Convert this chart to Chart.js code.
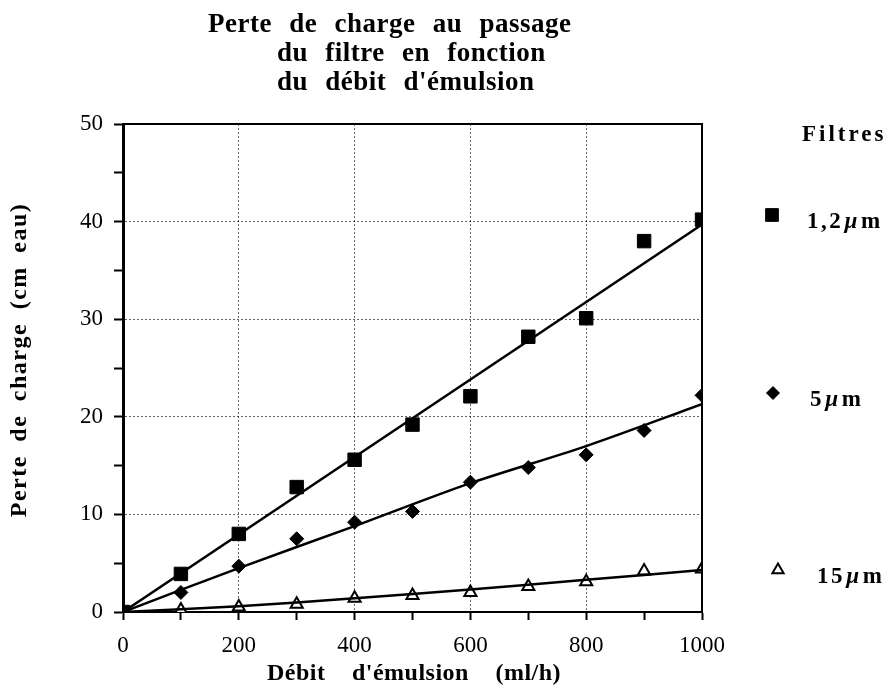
<!DOCTYPE html>
<html lang="fr">
<head>
    <meta charset="UTF-8">
    <title>Perte de charge</title>
    <script src="https://cdn.jsdelivr.net/npm/chart.js"></script>
    <style>
        body { margin: 0; background: white; }
        #wrap { width: 895px; height: 696px; }
    </style>
</head>
<body>
<div id="wrap"><canvas id="chart" width="895" height="696"></canvas></div>
<script>
    // débit d'émulsion (ml/h)
    const debits = [0, 100, 200, 300, 400, 500, 600, 700, 800, 900, 1000];

    // perte de charge (cm eau) mesurée
    const filtre12 = [0, 3.9, 8.0, 12.8, 15.6, 19.2, 22.1, 28.2, 30.1, 38.0, 40.2];
    const filtre5  = [0, 2.0, 4.7, 7.5, 9.2, 10.3, 13.3, 14.8, 16.1, 18.6, 22.2];
    const filtre15 = [0, 0.2, 0.5, 0.8, 1.4, 1.7, 2.0, 2.6, 3.1, 4.2, 4.4];

    // droites / courbes d'ajustement
    const fitX12 = [0, 1000];
    const fitY12 = [0, 39.7];
    const fitX5  = [0, 200, 400, 600, 800, 1000];
    const fitY5  = [0, 4.5, 8.8, 13.2, 17.0, 21.3];
    const fitX15 = [0, 200, 400, 600, 800, 1000];
    const fitY15 = [0, 0.6, 1.4, 2.3, 3.3, 4.3];

    const labels = ['1,2', '5', '15'];
    const titleLines = ['Perte de charge au passage', 'du filtre en fonction', 'du débit d\'émulsion'];
    const xTitle = 'Débit d\'émulsion (ml/h)';
    const yTitle = 'Perte de charge (cm eau)';

    const pts = (xs, ys) => xs.map((x, i) => ({ x: x, y: ys[i] }));

    const serif = '"Liberation Serif", "DejaVu Serif", serif';

    function markerSet(label, data, style, radius, fill) {
        return {
            label: label, data: data, showLine: false, legendMark: true,
            pointStyle: style, pointRadius: radius, pointHoverRadius: radius,
            pointBackgroundColor: fill, pointBorderColor: '#000', pointBorderWidth: fill === '#fff' ? 2 : 1
        };
    }
    function fitSet(data) {
        return {
            data: data, showLine: true, pointRadius: 0, borderColor: '#000',
            borderWidth: 2.5, fill: false, tension: 0.3
        };
    }

    // titre, titres d'axes, légende et cadre
    const decor = {
        id: 'decor',
        afterDraw(chart) {
            const ctx = chart.ctx;
            const a = chart.chartArea;
            ctx.save();
            ctx.strokeStyle = '#000';
            ctx.lineWidth = 2;
            ctx.beginPath();
            ctx.moveTo(a.left, a.top);
            ctx.lineTo(a.right, a.top);
            ctx.lineTo(a.right, a.bottom);
            ctx.stroke();

            ctx.fillStyle = '#000';
            ctx.textBaseline = 'alphabetic';
            ctx.textAlign = 'left';
            ctx.font = 'bold 27px ' + serif;
            ctx.letterSpacing = '0.5px';
            ctx.wordSpacing = '10px';
            const tx = [208, 277, 277];
            const ty = [32, 61, 90];
            titleLines.forEach((t, i) => ctx.fillText(t, tx[i], ty[i]));

            // titres des axes
            ctx.textAlign = 'center';
            ctx.textBaseline = 'alphabetic';
            ctx.font = 'bold 24px ' + serif;
            ctx.letterSpacing = '0.5px';
            ctx.wordSpacing = '20px';
            ctx.fillText(xTitle, 414, 680);
            ctx.save();
            ctx.translate(20, 360);
            ctx.rotate(-Math.PI / 2);
            ctx.textBaseline = 'middle';
            ctx.letterSpacing = '1.5px';
            ctx.wordSpacing = '6px';
            ctx.fillText(yTitle, 0, 0);
            ctx.restore();
            ctx.wordSpacing = '0px';

            // légende
            ctx.textAlign = 'left';
            ctx.textBaseline = 'middle';
            ctx.font = 'bold 23px ' + serif;
            ctx.letterSpacing = '3px';
            ctx.fillText('Filtres', 802, 135);

            const ly = [217, 395, 572];
            const lx = [807, 810, 817];
            const mx = [772, 773, 778];
            let k = 0;
            chart.data.datasets.forEach(ds => {
                if (!ds.legendMark) return;
                const opts = {
                    pointStyle: ds.pointStyle, radius: 6.5, rotation: 0,
                    borderWidth: ds.pointBorderWidth
                };
                ctx.fillStyle = ds.pointBackgroundColor;
                ctx.strokeStyle = '#000';
                ctx.lineWidth = ds.pointBorderWidth;
                if (ds.pointStyle === 'rect') opts.radius = 9;
                Chart.helpers.drawPoint(ctx, opts, mx[k], ly[k] - 2);

                ctx.fillStyle = '#000';
                ctx.letterSpacing = '2.5px';
                let x = lx[k];
                const y = ly[k] + 5;
                ctx.font = 'bold 23px ' + serif;
                ctx.fillText(ds.label, x, y);
                x += ctx.measureText(ds.label).width + 1;
                ctx.font = 'italic bold 23px ' + serif;
                ctx.fillText('\u00b5', x, y);
                x += ctx.measureText('\u00b5').width + 1;
                ctx.font = 'bold 23px ' + serif;
                ctx.fillText('m', x, y);
                k++;
            });
            ctx.restore();
        }
    };

    const gridCol = 'rgba(0,0,0,0.6)';

    new Chart(document.getElementById('chart').getContext('2d'), {
        type: 'scatter',
        data: {
            datasets: [
                fitSet(pts(fitX12, fitY12)),
                fitSet(pts(fitX5, fitY5)),
                fitSet(pts(fitX15, fitY15)),
                markerSet(labels[0], pts(debits, filtre12), 'rect', 9.5, '#000'),
                markerSet(labels[1], pts(debits, filtre5), 'rectRot', 7, '#000'),
                markerSet(labels[2], pts(debits, filtre15), 'triangle', 7, '#fff')
            ]
        },
        options: {
            responsive: false,
            animation: false,
            layout: { padding: { top: 124, right: 193, left: 0, bottom: 0 } },
            plugins: {
                legend: { display: false },
                title: { display: false },
                tooltip: { enabled: false }
            },
            scales: {
                x: {
                    type: 'linear', min: 0, max: 1000,
                    afterFit: s => { s.height = 84; },
                    ticks: {
                        stepSize: 100, padding: 12, color: '#000',
                        font: { family: serif, size: 23 },
                        callback: v => (v % 200 === 0 ? v : '')
                    },
                    grid: {
                        color: c => (c.tick && c.tick.value % 200 === 0 && c.tick.value > 0 ? gridCol : 'rgba(0,0,0,0)'),
                        tickColor: '#000', tickLength: 8, tickWidth: 2
                    },
                    border: { color: '#000', width: 2, dash: [2, 2] },
                    title: { display: false }
                },
                y: {
                    min: 0, max: 50,
                    afterFit: s => { s.width = 123; },
                    ticks: {
                        stepSize: 5, padding: 11, color: '#000',
                        font: { family: serif, size: 23 },
                        callback: v => (v % 10 === 0 ? v : '')
                    },
                    grid: {
                        color: c => (c.tick && c.tick.value % 10 === 0 && c.tick.value > 0 ? gridCol : 'rgba(0,0,0,0)'),
                        tickColor: '#000', tickLength: 9, tickWidth: 2
                    },
                    border: { color: '#000', width: 3, dash: [2, 2] },
                    title: { display: false }
                }
            }
        },
        plugins: [decor]
    });
</script>
</body>
</html>
